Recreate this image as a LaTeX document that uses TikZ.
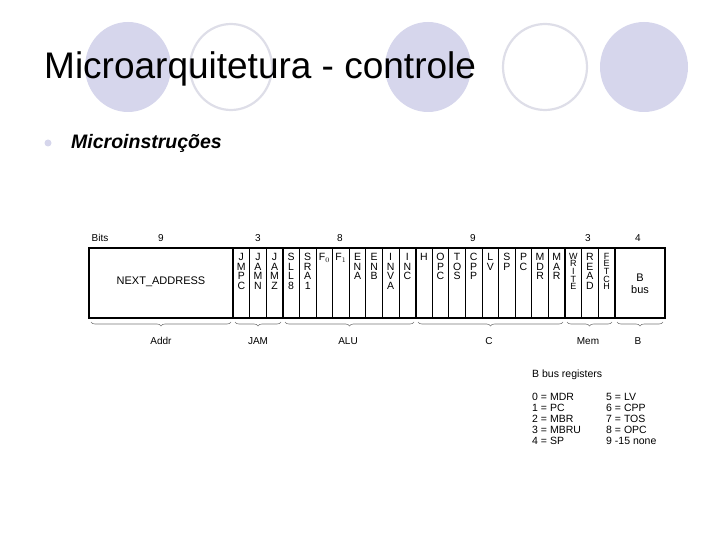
\documentclass[tikz,border=0pt]{standalone}
\usepackage{fontspec}
\setmainfont{Liberation Sans}
\usetikzlibrary{decorations.pathreplacing}
\definecolor{lav}{RGB}{214,214,236}
\definecolor{lavline}{RGB}{222,222,232}
\definecolor{bracec}{RGB}{120,120,120}
\begin{document}
\begin{tikzpicture}[x=1pt,y=-1pt,
  fillc/.style={fill=lav,draw=none},
  outc/.style={draw=lavline,line width=2.2pt},
  lbl/.style={font=\fontsize{10}{10}\selectfont,inner sep=0pt},
  col/.style={font=\fontsize{10.5}{9.6}\selectfont,align=center,inner sep=0pt,anchor=north},
  colt/.style={font=\fontsize{9}{7.6}\selectfont,align=center,inner sep=0pt,anchor=north},
  thin/.style={line width=0.7pt},
  thick/.style={line width=1.8pt},
  brc/.style={draw=bracec,line width=0.6pt,decorate,decoration={brace,mirror,amplitude=4pt}},
  leg/.style={font=\fontsize{10.5}{11}\selectfont,inner sep=0pt,anchor=west}]
\useasboundingbox (0,0) rectangle (720,540);
% decorative circles
\fill[fillc] (128,67) ellipse [x radius=43,y radius=45];
\draw[outc] (231,67) ellipse [x radius=41,y radius=43];
\fill[fillc] (428,67) ellipse [x radius=43,y radius=45];
\draw[outc] (545,67) ellipse [x radius=42,y radius=43];
\fill[fillc] (644,67) ellipse [x radius=44,y radius=45];
\node[anchor=west,inner sep=0pt,font=\fontsize{37}{37}\selectfont] (title) at (44,69) {Microarquitetura - controle};
\fill[lav] (48,143) circle (3.5);
\node[anchor=west,inner sep=0pt,font=\fontsize{19.5}{19.5}\selectfont\bfseries\itshape] (sub) at (71,143) {Microinstruções};
% microinstruction box
\def\bw{16.6}
\draw[thin] \foreach \i in {1,2,4,5,6,7,8,9,10,12,13,14,15,16,17,18,19,21,22} {(233+\i*\bw,248) -- (233+\i*\bw,318)};
\draw[thick] \foreach \i in {0,3,11,20,23} {(233+\i*\bw,248) -- (233+\i*\bw,318)};
\draw[thick] (89,248) rectangle (665,318);
\node[lbl,font=\fontsize{11}{11}\selectfont] (na) at (161,282) {NEXT\_ADDRESS};
\node[lbl,font=\fontsize{11}{11}\selectfont,align=center] (bb) at (640,284) {B\\[1pt]bus};
\foreach \t [count=\k from 0] in {J\\M\\P\\C, J\\A\\M\\N, J\\A\\M\\Z, S\\L\\L\\8, S\\R\\A\\1, F$_0$, F$_1$, E\\N\\A, E\\N\\B, I\\N\\V\\A, I\\N\\C, H, O\\P\\C, T\\O\\S, C\\P\\P, L\\V, S\\P, P\\C, M\\D\\R, M\\A\\R}
  \node[col] (c\k) at (233+\k*\bw+\bw/2,253) {\t};
\node[colt] (w) at (233+20.5*\bw,253) {W\\R\\I\\T\\E};
\node[col] (r) at (233+21.5*\bw,253) {R\\E\\A\\D};
\node[colt] (f) at (233+22.5*\bw,253) {F\\E\\T\\C\\H};
% top numbers
\node[lbl] (bits) at (100,238) {Bits};
\node[lbl] (n1) at (161,238) {9};
\node[lbl] (n2) at (258,238) {3};
\node[lbl] (n3) at (340,238) {8};
\node[lbl] (n4) at (473,238) {9};
\node[lbl] (n5) at (588,238) {3};
\node[lbl] (n6) at (638,238) {4};
% braces
\draw[brc] (91,322) -- (231,322);
\draw[brc] (235,322) -- (281,322);
\draw[brc] (285,322) -- (414,322);
\draw[brc] (418,322) -- (563,322);
\draw[brc] (567,322) -- (612,322);
\draw[brc] (617,322) -- (663,322);
\node[lbl] (l1) at (161,341) {Addr};
\node[lbl] (l2) at (258,341) {JAM};
\node[lbl] (l3) at (348,341) {ALU};
\node[lbl] (l4) at (489,341) {C};
\node[lbl] (l5) at (588,341) {Mem};
\node[lbl] (l6) at (638,341) {B};
% legend
\node[leg] (lt) at (532,375) {B bus registers};
\foreach \a/\b [count=\k from 0] in {0 = MDR/5 = LV,1 = PC/6 = CPP,2 = MBR/7 = TOS,3 = MBRU/8 = OPC,4 = SP/9 -15 none}{
  \node[leg] (la\k) at (532,397+\k*11) {\a};
  \node[leg] (lb\k) at (606,397+\k*11) {\b};}
\end{tikzpicture}
\end{document}
